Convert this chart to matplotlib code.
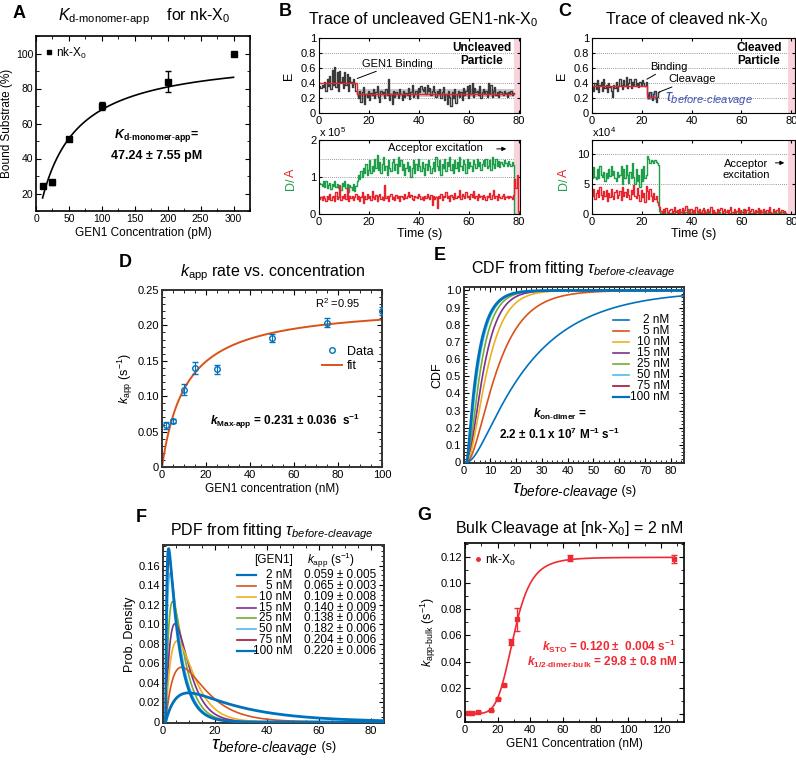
import numpy as np
import matplotlib
matplotlib.use('Agg')
import matplotlib.pyplot as plt
from matplotlib.lines import Line2D
from matplotlib.offsetbox import TextArea, HPacker, AnchoredOffsetbox

plt.rcParams['font.family'] = ['Liberation Sans', 'DejaVu Sans']
plt.rcParams['mathtext.fontset'] = 'custom'
plt.rcParams['mathtext.rm'] = 'Liberation Sans'
plt.rcParams['mathtext.it'] = 'Liberation Sans:italic'
plt.rcParams['mathtext.bf'] = 'Liberation Sans:bold'
plt.rcParams['mathtext.bfit'] = 'Liberation Sans:italic:bold'
plt.rcParams['mathtext.sf'] = 'Liberation Sans'

# ---------------- data ----------------
# Panel A
A_conc = [10, 25, 50, 100, 200, 300]
A_bound = [24.5, 26.5, 51, 70, 84, 100]
A_err = [0.8, 1.5, 0.8, 2.5, 6.0, 0.5]
A_kd = 47.24
A_bmax = 100.0

# Panel B (0.5 s frames)
dt = 0.5
B_E = [0.36, 0.33, 0.38, 0.35, 0.42, 0.30, 0.45, 0.36, 0.50, 0.32, 0.58, 0.38, 0.62, 0.35, 0.55,
       0.30, 0.56, 0.42, 0.48, 0.33, 0.55, 0.38, 0.52, 0.30, 0.48, 0.42, 0.35, 0.46, 0.40, 0.30,
       0.25, 0.20, 0.30, 0.15, 0.28, 0.35, 0.12, 0.26, 0.22, 0.30, 0.18, 0.27, 0.24, 0.32, 0.20,
       0.28, 0.36, 0.22, 0.15, 0.30, 0.25, 0.28, 0.20, 0.32, 0.24, 0.45, 0.18, 0.26, 0.12, 0.30,
       0.22, 0.28, 0.25, 0.20, 0.32, 0.26, 0.18, 0.30, 0.22, 0.27, 0.24, 0.33, 0.19, 0.28, 0.38,
       0.22, 0.26, 0.30, 0.20, 0.34, 0.28, 0.36, 0.32, 0.30, 0.35, 0.26, 0.38, 0.30, 0.33, 0.24,
       0.30, 0.36, 0.28, 0.22, 0.30, 0.25, 0.32, 0.20, 0.28, 0.35, 0.18, 0.26, 0.12, 0.30, 0.22,
       0.10, 0.28, 0.20, 0.32, 0.14, 0.26, 0.30, 0.22, 0.28, 0.18, 0.34, 0.24, 0.30, 0.36, 0.20,
       0.38, 0.26, 0.40, 0.22, 0.34, 0.28, 0.30, 0.24, 0.36, 0.20, 0.28, 0.32, 0.25, 0.30, 0.22,
       0.40, 0.26, 0.38, 0.22, 0.30, 0.35, 0.24, 0.28, 0.22, 0.30,
       0.28, 0.26, 0.24, 0.30, 0.27, 0.22, 0.28, 0.25, 0.30, 0.24, 0.27]
B_fit_t = [0, 15, 15, 78]
B_fit_E = [0.40, 0.40, 0.26, 0.26]
B_band = (15, 78, 0.22, 0.32)
B_donor = [0.85, 0.80, 0.75, 0.88, 0.72, 0.90, 0.70, 0.78, 0.85, 0.68, 0.80, 0.75, 0.88, 0.72, 0.82,
           0.70, 0.78, 0.65, 0.85, 0.75, 0.90, 0.70, 0.80, 0.60, 0.78, 0.72, 0.65, 0.80, 0.62, 0.75,
           0.90, 1.05, 0.95, 1.15, 1.00, 1.25, 1.10, 1.35, 1.05, 1.20, 1.45, 1.10, 1.30, 1.15, 1.50,
           1.25, 1.60, 1.20, 1.40, 1.10, 1.35, 1.55, 1.20, 1.30, 1.05, 1.45, 1.25, 1.15, 1.40, 1.50,
           1.20, 1.35, 1.10, 1.55, 1.30, 1.45, 1.20, 1.35, 1.05, 1.25, 1.40, 1.15, 1.30, 1.00, 1.25,
           1.45, 1.10, 1.35, 1.20, 1.50, 1.30, 1.15, 1.40, 1.25, 1.05, 1.35, 1.20, 1.45, 1.30, 1.10,
           1.25, 1.40, 1.15, 1.55, 1.30, 1.20, 1.45, 1.05, 1.35, 1.25, 1.50, 1.15, 1.40, 1.30, 1.55,
           1.20, 1.35, 1.10, 1.45, 1.25, 1.40, 1.15, 1.55, 1.30, 1.20, 1.45, 1.35, 1.10, 1.50, 1.25,
           1.40, 1.30, 1.15, 1.45, 1.35, 1.25, 1.50, 1.30, 1.40, 1.20, 1.35, 1.45, 1.30, 1.50, 1.25,
           1.30, 1.45, 1.20, 1.55, 1.35, 1.25, 1.48, 1.30, 1.42, 1.28,
           1.40, 1.35, 1.30, 1.45, 1.38, 1.30, 1.42, 1.35, 1.30, 1.40, 1.33,
           0.0, 0.0, 0.0, 0.0]
B_acceptor = [0.40, 0.45, 0.38, 0.50, 0.42, 0.35, 0.48, 0.40, 0.55, 0.38, 0.45, 0.50, 0.35, 0.60, 0.40,
              0.45, 0.75, 0.38, 0.50, 0.42, 0.55, 0.40, 0.70, 0.35, 0.48, 0.42, 0.50, 0.38, 0.45, 0.55,
              0.40, 0.50, 0.35, 0.45, 0.60, 0.30, 0.48, 0.40, 0.55, 0.42, 0.50, 0.38, 0.62, 0.45, 0.40,
              0.52, 0.35, 0.48, 0.55, 0.40, 0.45, 0.38, 0.78, 0.42, 0.50, 0.36, 0.48, 0.55, 0.40, 0.45,
              0.38, 0.52, 0.42, 0.48, 0.35, 0.50, 0.45, 0.40, 0.55, 0.42, 0.48, 0.60, 0.45, 0.52, 0.40,
              0.38, 0.50, 0.45, 0.42, 0.55, 0.48, 0.40, 0.45, 0.38, 0.50, 0.42, 0.55, 0.45, 0.40, 0.52,
              0.25, 0.50, 0.40, 0.45, 0.15, 0.48, 0.42, 0.55, 0.38, 0.50, 0.45, 0.60, 0.42, 0.48, 0.35,
              0.52, 0.45, 0.40, 0.58, 0.42, 0.50, 0.45, 0.65, 0.40, 0.55, 0.48, 0.42, 0.60, 0.45, 0.50,
              0.40, 0.55, 0.45, 0.62, 0.42, 0.50, 0.38, 0.55, 0.45, 0.48, 0.40, 0.52, 0.45, 0.38, 0.50,
              0.45, 0.58, 0.40, 0.52, 0.65, 0.42, 0.50, 0.38, 0.55, 0.46,
              0.42, 0.48, 0.55, 0.40, 0.45, 0.50, 0.42, 0.48, 0.45, 0.40, 0.52,
              0.95, 0.70, 1.05, 0.05]

# Panel C
C_E = [0.36, 0.30, 0.40, 0.32, 0.44, 0.28, 0.38, 0.42, 0.30, 0.45, 0.34, 0.38, 0.28, 0.40, 0.35,
       0.30, 0.22, 0.38, 0.34, 0.42, 0.30, 0.36, 0.45, 0.38, 0.32, 0.44, 0.36, 0.48, 0.34, 0.40,
       0.46, 0.33, 0.42, 0.38, 0.45, 0.36, 0.40, 0.35, 0.42, 0.38, 0.44, 0.40, 0.36, 0.42,
       0.25, 0.20, 0.28, 0.22, 0.18, 0.25, 0.30, 0.15, 0.22, 0.28]
C_fit_t = [0, 22, 22, 25.5]
C_fit_E = [0.36, 0.36, 0.22, 0.22]
C_box = (22, 25.5, 0.18, 0.28)
C_donor = [6.0, 7.8, 6.2, 5.8, 7.5, 6.0, 8.0, 6.5, 6.2, 7.0, 5.5, 6.8, 6.0, 7.5, 6.3, 8.0, 6.5, 7.2,
           6.0, 5.5, 7.0, 6.2, 6.5, 8.0, 5.0, 7.5, 6.0, 8.2, 6.5, 5.2, 7.0, 6.0, 8.5, 6.2, 5.0, 7.5,
           5.5, 6.5, 4.5, 7.5, 5.5, 8.0, 6.0, 6.5,
           9.6, 9.2, 8.5, 9.0, 8.8, 8.5, 9.0, 8.6, 8.4, 8.2,
           0.5, 0.2, 0.0, 0.3, 0.1, 0.0, 0.4, 0.2, 0.0, 0.1, 0.3, 0.0, 0.2, 0.5, 0.1, 0.0, 0.3, 0.0,
           0.2, 0.1, 0.0, 0.4, 0.2, 0.8, 0.0, 0.1, 0.3, 0.0, 0.2, 0.0, 0.5, 0.1, 0.0, 0.3, 0.2, 0.0,
           0.6, 0.1, 0.0, 0.2, 0.3, 0.0, 0.1, 0.5, 0.0, 0.2, 0.1, 0.0, 0.4, 0.0, 0.2, 0.1, 0.0, 0.3,
           0.6, 0.0, 0.1, 0.2, 0.0, 0.3, 0.1, 0.0, 0.5, 0.2, 0.0, 0.1, 0.3, 0.8, 0.0, 0.2, 0.0, 0.4,
           0.1, 0.0, 0.2, 0.3, 0.0, 0.1, 0.5, 0.0, 0.2, 0.7, 0.0, 0.1, 0.3, 0.0, 0.2, 0.0, 0.4, 0.1,
           0.0, 0.2, 0.3, 0.0, 0.1, 0.5, 0.2, 0.0, 0.3, 0.1, 0.0, 0.2]
C_acceptor = [3.0, 4.2, 2.5, 3.5, 4.0, 2.8, 4.5, 3.2, 2.5, 3.8, 3.0, 4.0, 2.2, 3.5, 2.8, 4.2, 3.0, 2.5,
              3.6, 4.0, 2.6, 3.2, 3.8, 2.4, 4.5, 3.0, 3.6, 2.8, 4.2, 3.2, 2.5, 4.0, 3.4, 4.8, 3.0, 2.6,
              4.4, 3.2, 2.2, 4.0, 2.8, 3.5, 2.0, 4.6,
              3.8, 2.5, 4.2, 3.0, 2.2, 3.5, 2.5, 3.0, 2.0, 1.5,
              1.2, 0.5, 0.2, 0.8, 0.3, 1.0, 0.4, 0.1, 0.6, 0.9, 0.2, 0.5, 1.2, 0.3, 0.7, 0.1, 0.8, 0.4,
              1.0, 0.2, 0.6, 1.3, 0.3, 0.5, 0.1, 0.9, 0.4, 0.7, 0.2, 1.1, 0.5, 0.3, 0.8, 0.1, 0.6, 1.0,
              0.2, 0.4, 0.9, 0.3, 0.5, 1.2, 0.2, 0.7, 0.4, 0.1, 0.8, 0.3, 0.6, 1.0, 0.2, 0.5, 0.9, 0.3,
              0.7, 0.1, 0.6, 1.1, 0.4, 0.2, 0.8, 0.3, 0.5, 1.0, 0.2, 0.7, 0.4, 0.1, 0.9, 0.3, 0.6, 1.2,
              0.2, 0.5, 0.8, 0.3, 0.1, 0.7, 0.4, 1.0, 0.2, 0.6, 0.3, 0.9, 0.5, 0.1, 0.7, 0.3, 1.1, 0.4,
              0.2, 0.8, 0.5, 0.3, 0.6, 1.0, 0.2, 0.4, 0.7, 0.3, 0.5, 0.2]

# Panel D
D_conc = [2, 5, 10, 15, 25, 50, 75, 100]
D_kapp = [0.059, 0.065, 0.109, 0.140, 0.138, 0.182, 0.204, 0.220]
D_err = [0.005, 0.003, 0.008, 0.009, 0.006, 0.006, 0.006, 0.006]
D_kmax = 0.231
D_khalf = 11.0

# Panels E / F
EF_conc = [2, 5, 10, 15, 25, 50, 75, 100]
EF_labels = ['2 nM', '5 nM', '10 nM', '15 nM', '25 nM', '50 nM', '75 nM', '100 nM']
EF_kapp_text = ['0.059 ± 0.005', '0.065 ± 0.003', '0.109 ± 0.008', '0.140 ± 0.009',
                '0.138 ± 0.006', '0.182 ± 0.006', '0.204 ± 0.006', '0.220 ± 0.006']
EF_colors = ['#0072BD', '#D95319', '#EDB120', '#7E2F8E', '#77AC30', '#4DBEEE', '#A2142F', '#0072BD']
EF_kon = 0.022      # nM^-1 s^-1  (2.2e7 M^-1 s^-1)
EF_kstep = 0.231    # s^-1
EF_t0 = 1.0         # s

# Panel G
G_conc = [2, 4, 8, 16, 20, 24, 28, 32, 64, 128]
G_kbulk = [0.0005, 0.0005, 0.0012, 0.0026, 0.0115, 0.0222, 0.0550, 0.0723, 0.1195, 0.1190]
G_err = [0.0006, 0.0006, 0.0005, 0.0005, 0.0006, 0.0006, 0.0020, 0.0085, 0.0020, 0.0030]
G_ksto = 0.120
G_khalf = 29.8
G_hill = 5.5

# ---------------- figure ----------------
W, H = 796, 761
fig = plt.figure(figsize=(W / 100, H / 100), dpi=100)


def add_ax(l, t, r, b):
    return fig.add_axes([l / W, 1 - b / H, (r - l) / W, (b - t) / H])


def style(ax, lw=1.2, labelsize=7.5, color='black'):
    ax.tick_params(which='both', direction='in', top=True, right=True,
                   labelsize=labelsize, pad=2, colors='black')
    ax.tick_params(which='major', length=3.5, width=0.8)
    ax.tick_params(which='minor', length=2, width=0.6)
    for s in ax.spines.values():
        s.set_linewidth(lw)
        s.set_color(color)


def fmt(v, nd):
    return '0' if v == 0 else f'{v:.{nd}f}'


def tau_xlabel(ax, y):
    t1 = TextArea(r"$\tau_{\mathit{before}\text{-}\mathit{cleavage}}$", textprops=dict(fontsize=14))
    t2 = TextArea(" (s)", textprops=dict(fontsize=9))
    box = HPacker(children=[t1, t2], align="baseline", pad=0, sep=0)
    ab = AnchoredOffsetbox(loc='upper center', child=box, frameon=False,
                           bbox_to_anchor=(0.5, y), bbox_transform=ax.transAxes, borderpad=0)
    ax.add_artist(ab)


def letter(x, y, s):
    fig.text(x / W, 1 - y / H, s, fontsize=13, fontweight='bold', ha='center', va='center')


def title(x, y, s, size=11.5):
    fig.text(x / W, 1 - y / H, s, fontsize=size, ha='center', va='center')


# ---- Panel A ----
axA = add_ax(36, 36, 250, 211)
xA = np.linspace(min(A_conc), max(A_conc), 300)
axA.plot(xA, A_bmax * xA / (A_kd + xA), color='black', lw=1.2)
axA.errorbar(A_conc, A_bound, yerr=A_err, fmt='s', color='black', ms=4, capsize=2.5, elinewidth=1)
axA.set_xlim(0, 325)
axA.set_ylim(10, 110)
axA.set_xticks(range(0, 301, 50))
axA.set_xticks(range(0, 326, 25), minor=True)
axA.set_yticks(range(20, 101, 20))
axA.set_yticks(range(10, 111, 10), minor=True)
style(axA)
axA.set_xlabel('GEN1 Concentration (pM)', fontsize=8.5, labelpad=2)
axA.set_ylabel('Bound Substrate (%)', fontsize=8.5, labelpad=2)
axA.legend([Line2D([], [], marker='s', ls='', color='black', ms=3.5)], ['nk-X$_0$'],
           loc='upper left', frameon=False, fontsize=8.5, handlelength=0.6, handletextpad=0.3,
           borderaxespad=0.4)
axA.text(0.565, 0.43, r"$\mathbfit{K}_{\mathbf{d}\text{-}\mathbf{monomer}\text{-}\mathbf{app}}$=",
         transform=axA.transAxes, fontsize=9, fontweight='bold', ha='center', va='center')
axA.text(0.565, 0.315, '47.24 ± 7.55 pM', transform=axA.transAxes, fontsize=9, fontweight='bold',
         ha='center', va='center')
letter(19, 13, 'A')
title(144, 17, r"$K_{\text{d-monomer-app}}$    for nk-X$_0$", size=11.5)

# ---- Panel B ----
trace_gray = '#3a3a3a'
green = '#1E9E4A'
red = '#E8232B'
pink = '#F8D3DC'

axB1 = add_ax(319, 38, 520, 113)
tB = np.arange(len(B_E)) * dt
axB1.fill_between([B_band[0], B_band[1]], B_band[2], B_band[3], color='#C8C8C8', lw=0)
axB1.step(np.append(tB, tB[-1] + dt), np.append(B_E, B_E[-1]), where='post', color=trace_gray, lw=1.0)
axB1.plot(B_fit_t, B_fit_E, color=red, lw=1.0)
axB1.axvspan(78, 80.4, color=pink, lw=0)
axB1.set_xlim(0, 80.4)
axB1.set_ylim(0, 1)
axB1.set_yticks([0, 0.2, 0.4, 0.6, 0.8, 1.0], ['0', '0.2', '0.4', '0.6', '0.8', '1'])
axB1.set_xticks([0, 20, 40, 60, 80])
for yv in [0.2, 0.4, 0.6, 0.8]:
    axB1.axhline(yv, color='#777777', lw=0.6, ls=(0, (1, 1.5)), zorder=0)
style(axB1, lw=0.8, labelsize=8)
axB1.tick_params(which='major', length=2.5)
axB1.set_ylabel('E', fontsize=9, labelpad=4)
axB1.annotate('GEN1 Binding', xy=(15.3, 0.46), xytext=(17, 0.66), fontsize=8, ha='left', va='center',
              arrowprops=dict(arrowstyle='-', color='black', lw=0.7, shrinkA=0, shrinkB=0))
axB1.text(65, 0.78, 'Uncleaved\nParticle', fontsize=8.5, fontweight='bold', ha='center', va='center',
          linespacing=1.1)

axB2 = add_ax(319, 140, 520, 214)
tB2 = np.arange(len(B_donor)) * dt
axB2.axvspan(78, 80.4, color=pink, lw=0)
axB2.step(np.append(tB2, tB2[-1] + dt), np.append(B_donor, B_donor[-1]), where='post', color=green, lw=1.0)
axB2.step(np.append(tB2, tB2[-1] + dt), np.append(B_acceptor, B_acceptor[-1]), where='post', color=red, lw=1.0)
axB2.set_xlim(0, 80.4)
axB2.set_ylim(0, 2)
axB2.set_yticks([0, 1, 2])
axB2.set_xticks([0, 20, 40, 60, 80])
for yv in [0.5, 1.0, 1.5]:
    axB2.axhline(yv, color='#777777', lw=0.6, ls=(0, (1, 1.5)), zorder=0)
style(axB2, lw=0.8, labelsize=8)
axB2.tick_params(which='major', length=2.5)
axB2.set_xlabel('Time (s)', fontsize=9, labelpad=1)
axB2.text(-0.14, 0.5, 'D/', color=green, rotation=90, fontsize=9, transform=axB2.transAxes,
          ha='center', va='top')
axB2.text(-0.14, 0.5, 'A', color=red, rotation=90, fontsize=9, transform=axB2.transAxes,
          ha='center', va='bottom')
axB2.text(0.0, 1.02, r'x 10$^5$', transform=axB2.transAxes, fontsize=8, ha='left', va='bottom')
axB2.text(46.5, 1.78, 'Acceptor excitation', fontsize=8, ha='center', va='center')
axB2.annotate('', xy=(76, 1.76), xytext=(70, 1.76),
              arrowprops=dict(arrowstyle='-|>', color='black', lw=0.7, mutation_scale=6))
letter(285, 12, 'B')
title(423, 20, r"Trace of uncleaved GEN1-nk-X$_0$")

# ---- Panel C ----
axC1 = add_ax(592, 38, 795, 113)
tC = np.arange(len(C_E)) * dt
axC1.fill_between([C_box[0], C_box[1]], C_box[2], C_box[3], color='#8C8FD0', alpha=0.75, lw=0)
axC1.step(np.append(tC, tC[-1] + dt), np.append(C_E, C_E[-1]), where='post', color=trace_gray, lw=1.0)
axC1.plot(C_fit_t, C_fit_E, color=red, lw=1.0)
axC1.axvspan(78.5, 81.5, color=pink, lw=0)
axC1.set_xlim(0, 81.5)
axC1.set_ylim(0, 1)
axC1.set_yticks([0, 0.2, 0.4, 0.6, 0.8, 1.0], ['0', '0.2', '0.4', '0.6', '0.8', '1'])
axC1.set_xticks([0, 20, 40, 60, 80])
for yv in [0.2, 0.4, 0.6, 0.8]:
    axC1.axhline(yv, color='#777777', lw=0.6, ls=(0, (1, 1.5)), zorder=0)
style(axC1, lw=0.8, labelsize=8)
axC1.tick_params(which='major', length=2.5)
axC1.set_ylabel('E', fontsize=9, labelpad=4)
axC1.annotate('Binding', xy=(22, 0.45), xytext=(23.5, 0.62), fontsize=8, ha='left', va='center',
              arrowprops=dict(arrowstyle='-', color='black', lw=0.7, shrinkA=0, shrinkB=0))
axC1.annotate('Cleavage', xy=(27, 0.28), xytext=(30.5, 0.45), fontsize=8, ha='left', va='center',
              arrowprops=dict(arrowstyle='-', color='black', lw=0.7, shrinkA=0, shrinkB=0))
axC1.text(29.5, 0.19, r"$\tau_{\mathit{before}\text{-}\mathit{cleavage}}$", fontsize=11.5, color='#3F4FB0',
          ha='left', va='center')
axC1.text(67, 0.78, 'Cleaved\nParticle', fontsize=8.5, fontweight='bold', ha='center', va='center',
          linespacing=1.1)

axC2 = add_ax(592, 140, 795, 214)
tC2 = np.arange(len(C_donor)) * dt
axC2.axvspan(78.5, 81.5, color=pink, lw=0)
axC2.step(np.append(tC2, tC2[-1] + dt), np.append(C_donor, C_donor[-1]), where='post', color=green, lw=1.0)
axC2.step(np.append(tC2, tC2[-1] + dt), np.append(C_acceptor, C_acceptor[-1]), where='post', color=red, lw=1.0)
axC2.set_xlim(0, 81.5)
axC2.set_ylim(0, 12.3)
axC2.set_yticks([0, 5, 10])
axC2.set_xticks([0, 20, 40, 60, 80])
for yv in [5, 10]:
    axC2.axhline(yv, color='#777777', lw=0.6, ls=(0, (1, 1.5)), zorder=0)
style(axC2, lw=0.8, labelsize=8)
axC2.tick_params(which='major', length=2.5)
axC2.set_xlabel('Time (s)', fontsize=9, labelpad=1)
axC2.text(-0.14, 0.5, 'D/', color=green, rotation=90, fontsize=9, transform=axC2.transAxes,
          ha='center', va='top')
axC2.text(-0.14, 0.5, 'A', color=red, rotation=90, fontsize=9, transform=axC2.transAxes,
          ha='center', va='bottom')
axC2.text(0.0, 1.02, r'x10$^4$', transform=axC2.transAxes, fontsize=8, ha='left', va='bottom')
axC2.text(62, 7.4, 'Acceptor\nexcitation', fontsize=8, ha='center', va='center', linespacing=1.2)
axC2.annotate('', xy=(78.3, 8.5), xytext=(72.5, 8.5),
              arrowprops=dict(arrowstyle='-|>', color='black', lw=0.7, mutation_scale=6))
letter(565, 12, 'C')
title(687, 20, r"Trace of cleaved nk-X$_0$")

# ---- Panel D ----
axD = add_ax(162, 290, 382, 467)
xD = np.linspace(0, 100, 400)
axD.plot(xD, D_kmax * xD / (D_khalf + xD), color='#D95319', lw=1.4, zorder=2)
axD.errorbar(D_conc, D_kapp, yerr=D_err, fmt='o', mfc='none', mec='#0072BD', color='#0072BD',
             ms=4, mew=1, capsize=2, elinewidth=0.8, zorder=3)
axD.set_xlim(0, 100)
axD.set_ylim(0, 0.25)
ytD = [0, 0.05, 0.10, 0.15, 0.20, 0.25]
axD.set_yticks(ytD, [fmt(v, 2) for v in ytD])
axD.set_xticks(range(0, 101, 20))
axD.set_xticks(range(0, 101, 5), minor=True)
axD.set_yticks(np.arange(0, 0.251, 0.01), minor=True)
style(axD, lw=1.4, color='#333333', labelsize=8)
axD.set_xlabel('GEN1 concentration (nM)', fontsize=8.5, labelpad=2)
axD.set_ylabel(r'$k_{\rm app}$ (s$^{-1}$)', fontsize=9, labelpad=2)
axD.legend([Line2D([], [], marker='o', ls='', mfc='none', mec='#0072BD', ms=4, mew=1),
            Line2D([], [], color='#D95319', lw=1.4)], ['Data', 'fit'],
           loc='upper left', bbox_to_anchor=(0.70, 0.72),
           frameon=False, fontsize=9, handlelength=1.6, handletextpad=0.4, labelspacing=0.2,
           borderpad=0)
axD.text(0.80, 0.925, 'R$^2$ =0.95', transform=axD.transAxes, fontsize=8, ha='center', va='center')
axD.text(0.56, 0.255, r"$\mathbfit{k}_{\mathbf{Max}\text{-}\mathbf{app}}$ = 0.231 ± 0.036  s$^{\mathbf{-1}}$",
         transform=axD.transAxes, fontsize=8.5, fontweight='bold', ha='center', va='center')
letter(125, 262, 'D')
title(273, 273, r"$k_{\rm app}$ rate vs. concentration")

# ---- Panel E ----
axE = add_ax(464, 287, 684, 463)
axF = add_ax(163, 545, 384, 723)
tt = np.linspace(EF_t0, 85, 800)
for i, c in enumerate(EF_conc):
    a = EF_kon * c
    b = EF_kstep
    s = tt - EF_t0
    cdf = 1 - (b * np.exp(-a * s) - a * np.exp(-b * s)) / (b - a)
    pdf = a * b / (b - a) * (np.exp(-a * s) - np.exp(-b * s))
    lw = 2.0 if i in (0, 7) else 1.2
    lwE = 2.0 if i == 7 else 1.2
    axE.plot(tt, cdf, color=EF_colors[i], lw=lwE, zorder=10 - i if i != 7 else 11)
    axF.plot(tt, pdf, color=EF_colors[i], lw=lw, zorder=10 - i if i != 7 else 11)

axE.set_xlim(0, 85)
axE.set_ylim(-0.005, 1.02)
ytE = np.round(np.arange(0, 1.01, 0.1), 1)
axE.set_yticks(ytE, [fmt(v, 1) for v in ytE])
axE.set_xticks(range(0, 81, 10))
axE.set_xticks(range(0, 86, 2), minor=True)
axE.set_yticks(np.arange(0, 1.02, 0.02), minor=True)
style(axE, lw=1.4, color='#333333', labelsize=8)
axE.set_ylabel('CDF', fontsize=9, labelpad=2)
tau_xlabel(axE, -0.07)
# manual legend E
for i, lab in enumerate(EF_labels):
    yy = 0.81 - i * 0.0625
    axE.add_line(Line2D([0.675, 0.75], [yy, yy], color=EF_colors[i], lw=1.6 if i == 7 else 1.2,
                        transform=axE.transAxes))
    axE.text(0.935, yy, lab, transform=axE.transAxes, fontsize=8.5, ha='right', va='center')
axE.text(0.435, 0.275, r"$\mathbfit{k}_{\mathbf{on}\text{-}\mathbf{dimer}}$ =", transform=axE.transAxes,
         fontsize=8.5, fontweight='bold', ha='center', va='center')
axE.text(0.435, 0.165, r"2.2 ± 0.1 x 10$^{\mathbf{7}}$ M$^{\mathbf{-1}}$ s$^{\mathbf{-1}}$",
         transform=axE.transAxes, fontsize=8.5, fontweight='bold', ha='center', va='center')
letter(440, 256, 'E')
title(573, 270, r"CDF from fitting $\tau_{\mathit{before}\text{-}\mathit{cleavage}}$")

# ---- Panel F ----
axF.set_xlim(0, 85)
axF.set_ylim(-0.001, 0.181)
ytF = [0, 0.02, 0.04, 0.06, 0.08, 0.10, 0.12, 0.14, 0.16]
axF.set_yticks(ytF, [fmt(v, 2) for v in ytF])
axF.set_xticks(range(0, 81, 20))
axF.set_xticks(range(0, 86, 5), minor=True)
axF.set_yticks(np.arange(0, 0.181, 0.005), minor=True)
style(axF, lw=1.4, color='#333333', labelsize=8)
axF.set_ylabel('Prob. Density', fontsize=9, labelpad=2)
tau_xlabel(axF, -0.05)
axF.text(0.50, 0.915, '[GEN1]', transform=axF.transAxes, fontsize=8.5, ha='center', va='center')
axF.text(0.65, 0.915, r'$k_{\rm app}$ (s$^{-1}$)', transform=axF.transAxes, fontsize=8.5,
         ha='left', va='center')
for i, lab in enumerate(EF_labels):
    yy = 0.83 - i * 0.0605
    axF.add_line(Line2D([0.335, 0.42], [yy, yy], color=EF_colors[i], lw=1.6 if i in (0, 7) else 1.2,
                        transform=axF.transAxes))
    axF.text(0.585, yy, lab, transform=axF.transAxes, fontsize=8.5, ha='right', va='center')
    axF.text(0.638, yy, EF_kapp_text[i], transform=axF.transAxes, fontsize=8.5, ha='left', va='center')
letter(141, 518, 'F')
title(272, 532, r"PDF from fitting $\tau_{\mathit{before}\text{-}\mathit{cleavage}}$")

# ---- Panel G ----
gred = '#EE2A32'
axG = add_ax(465, 543, 684, 722)
xG = np.linspace(0, 128, 500)
axG.plot(xG, G_ksto * xG ** G_hill / (G_khalf ** G_hill + xG ** G_hill), color=gred, lw=1.2)
axG.errorbar(G_conc, G_kbulk, yerr=G_err, fmt='s', color=gred, ms=3, capsize=2, elinewidth=0.9)
axG.set_xlim(0, 134)
axG.set_ylim(-0.0064, 0.131)
ytG = [0, 0.02, 0.04, 0.06, 0.08, 0.10, 0.12]
axG.set_yticks(ytG, [fmt(v, 2) for v in ytG])
axG.set_xticks(range(0, 121, 20))
axG.set_xticks(range(0, 131, 10), minor=True)
axG.set_yticks(np.arange(0, 0.131, 0.01), minor=True)
style(axG, lw=1.2, labelsize=8)
axG.set_xlabel('GEN1 Concentration (nM)', fontsize=8.5, labelpad=2)
axG.set_ylabel(r'$k_{\text{app-bulk}}$ (s$^{-1}$)', fontsize=9, labelpad=2)
axG.legend([Line2D([], [], marker='o', ls='', color=gred, ms=2.5)], ['nk-X$_0$'], loc='upper left',
           frameon=False, fontsize=8.5, handlelength=0.6, handletextpad=0.3, borderaxespad=0.4)
axG.text(0.96, 0.425, r"$\mathbfit{k}_{\mathbf{STO}}$ = 0.120 ±  0.004 s$^{\mathbf{-1}}$",
         transform=axG.transAxes, fontsize=8.5, fontweight='bold', ha='right', va='center', color=gred)
axG.text(0.97, 0.33, r"$\mathbfit{k}_{\mathbf{1/2}\text{-}\mathbf{dimer}\text{-}\mathbf{bulk}}$ = 29.8 ± 0.8 nM",
         transform=axG.transAxes, fontsize=8.5, fontweight='bold', ha='right', va='center', color=gred)
letter(424, 515, 'G')
title(569, 529, r"Bulk Cleavage at [nk-X$_0$] = 2 nM")

fig.savefig('out.png', dpi=100)
